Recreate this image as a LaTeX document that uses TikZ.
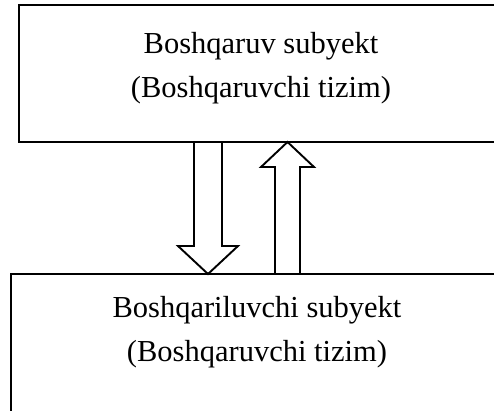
\documentclass[tikz,border=0pt]{standalone}
\usepackage{fontspec}
\setmainfont{Liberation Serif}
\begin{document}
\begin{tikzpicture}[x=1pt,y=-1pt,
  boxstyle/.style={draw=black,line width=2pt,rectangle,inner sep=0pt},
  label/.style={font=\fontsize{30.5}{36}\selectfont,anchor=base,inner sep=0pt},
  arrowstyle/.style={draw=black,fill=white,line width=1.9pt,line join=miter}]
\useasboundingbox (0,0) rectangle (494,410);
\clip (0,0) rectangle (494,410);
% boxes
\node[boxstyle,minimum width=483pt,minimum height=137pt] (top) at (260.5,73.5) {};
\node[boxstyle,minimum width=499pt,minimum height=166pt] (bot) at (260.5,357) {};
% texts
\node[label] (t1) at (261,53) {Boshqaruv subyekt};
\node[label] (t2) at (261,97) {(Boshqaruvchi tizim)};
\node[label] (b1) at (257,317) {Boshqariluvchi subyekt};
\node[label] (b2) at (257,361) {(Boshqaruvchi tizim)};
% down arrow
\coordinate (dtip) at (208,274);
\draw[arrowstyle] (194,142) -- (222,142) -- (222,246) -- (238,246) -- (dtip) -- (178,246) -- (194,246) -- cycle;
% up arrow
\coordinate (utip) at (287.5,142);
\draw[arrowstyle] (275,274) -- (300,274) -- (300,167) -- (314,167) -- (utip) -- (261,167) -- (275,167) -- cycle;
\end{tikzpicture}
\end{document}
